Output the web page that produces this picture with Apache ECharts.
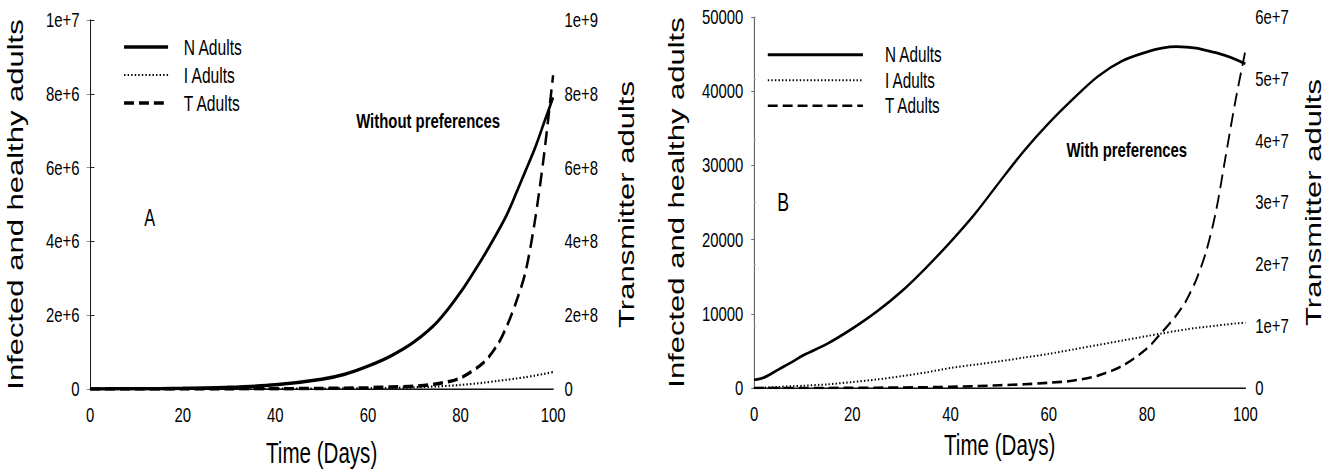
<!DOCTYPE html>
<html>
<head>
<meta charset="utf-8">
<script src="https://cdn.jsdelivr.net/npm/echarts@6/dist/echarts.min.js"></script>
<style>
  html, body { margin: 0; padding: 0; background: #fff; overflow: hidden; }
  /* the figure is typeset in a wide frame, then condensed horizontally */
  #chart { width: 1880px; height: 474px; transform: scaleX(0.71); transform-origin: 0 0; }
</style>
</head>
<body>
<div id="chart"></div>
<script>
// Panel A: without preferences
const daysA = [0, 10, 20, 30, 40, 50, 55, 60, 65, 70, 75, 80, 85, 88, 90, 92, 94, 96, 98, 100];
const nAdultsA = [2000, 6000, 17000, 45000, 112000, 265000, 400000, 620000, 900000, 1280000, 1820000, 2620000, 3600000, 4250000, 4720000, 5300000, 5900000, 6500000, 7200000, 7900000];
const iAdultsA = [0, 1000, 2500, 5000, 8000, 13000, 16000, 20000, 30000, 45000, 70000, 110000, 170000, 220000, 250000, 285000, 320000, 360000, 410000, 460000];
const tAdultsA = [0, 20000, 100000, 300000, 700000, 1500000, 2300000, 3500000, 5500000, 7500000, 14000000, 30000000, 72000000, 120000000, 170000000, 235000000, 315000000, 450000000, 630000000, 850000000];

// Panel B: with preferences
const daysB = [0, 2, 5, 8, 10, 15, 20, 25, 30, 35, 40, 45, 50, 55, 60, 65, 70, 75, 80, 83, 86, 88, 90, 92, 94, 96, 98, 100];
const nAdultsB = [1100, 1400, 2500, 3600, 4400, 6000, 8000, 10300, 13000, 16200, 19700, 23500, 27800, 32000, 35700, 39000, 42000, 44100, 45300, 45800, 46000, 45950, 45800, 45500, 45200, 44800, 44300, 43700];
const iAdultsB = [0, 50, 150, 250, 300, 500, 800, 1150, 1600, 2100, 2700, 3150, 3600, 4100, 4600, 5200, 5800, 6400, 7000, 7350, 7700, 7900, 8100, 8250, 8400, 8550, 8700, 8800];
const tAdultsB = [0, 0, 0, 0, 0, 10000, 20000, 50000, 80000, 120000, 200000, 300000, 450000, 600000, 850000, 1200000, 2000000, 3600000, 6400000, 9000000, 11800000, 14200000, 17500000, 22000000, 28500000, 37500000, 46500000, 54500000];

const seriesNames = ['N Adults', 'I Adults', 'T Adults'];
const xTicks = [0, 20, 40, 60, 80, 100];

const FONT = "'Liberation Sans', Arial, sans-serif";
const pairs = (xs, ys) => xs.map((x, i) => [x, ys[i]]);
const expLabel = v => (v === 0 ? '0' : v.toExponential());

// line styles per panel
const styleA = {
  'N Adults': { type: 'solid', width: 3.5 },
  'I Adults': { type: [2, 3], width: 2.2 },
  'T Adults': { type: [14, 7], width: 3.5 }
};
const styleB = {
  'N Adults': { type: 'solid', width: 2.8 },
  'I Adults': { type: [2, 3], width: 2 },
  'T Adults': { type: [14, 7], width: 2.6 }
};

function lineSeries(name, xi, yi, data, st) {
  return {
    name: name, type: 'line', xAxisIndex: xi, yAxisIndex: yi,
    data: data, symbol: 'none', smooth: 0.3,
    lineStyle: { color: '#000', width: st.width, type: st.type },
    itemStyle: { color: '#000' },
    emphasis: { disabled: true }, z: 3
  };
}

// legend entries show the stroke only
function legendItems(styles) {
  return seriesNames.map(n => ({
    name: n,
    lineStyle: { color: '#000', type: styles[n].type, width: styles[n].width },
    itemStyle: { color: 'rgba(0,0,0,0)', borderColor: 'rgba(0,0,0,0)', borderWidth: 0, opacity: 0 }
  }));
}

const axisText = { color: '#000', fontFamily: FONT, fontSize: 21 };

function xBottom(grid, gap) {
  return {
    gridIndex: grid, type: 'value', position: 'bottom', min: 0, max: 100, interval: 20,
    axisLine: { show: true, lineStyle: { color: '#808080', width: 2 } },
    axisTick: { show: false }, splitLine: { show: false },
    axisLabel: Object.assign({ margin: 16, formatter: v => (xTicks.includes(v) ? String(v) : '') }, axisText),
    name: 'Time (Days)', nameLocation: 'middle', nameGap: gap,
    nameTextStyle: { color: '#000', fontFamily: FONT, fontSize: 29 }
  };
}
function xTop(grid) {
  return {
    gridIndex: grid, type: 'value', position: 'top', min: 0, max: 100, interval: 20,
    axisLine: { show: true, lineStyle: { color: '#000', width: 1 } },
    axisTick: { show: false }, axisLabel: { show: false }, splitLine: { show: false }
  };
}

const option = {
  animation: false,
  backgroundColor: '#fff',
  grid: [
    { left: 127, top: 20, width: 652, height: 369 },
    { left: 1062, top: 17, width: 692, height: 371 }
  ],
  xAxis: [xBottom(0, 49), xTop(0), xBottom(1, 42), xTop(1)],
  yAxis: [
    {
      gridIndex: 0, type: 'value', position: 'left', min: 0, max: 10000000, interval: 2000000,
      axisLine: { show: true, lineStyle: { color: '#7a7a7a', width: 1 } },
      axisTick: { show: true, length: 5, lineStyle: { color: '#7a7a7a' } },
      splitLine: { show: false },
      axisLabel: Object.assign({ margin: 15, formatter: expLabel }, axisText),
      name: 'Infected and healthy adults', nameLocation: 'middle', nameRotate: 90, nameGap: 90,
      nameTextStyle: { color: '#000', fontFamily: FONT, fontSize: 31 }
    },
    {
      gridIndex: 0, type: 'value', position: 'right', min: 0, max: 1000000000, interval: 200000000,
      axisLine: { show: true, lineStyle: { color: '#000', width: 1 } },
      axisTick: { show: true, length: 6, lineStyle: { color: '#000' } },
      splitLine: { show: false },
      axisLabel: Object.assign({ margin: 16, formatter: expLabel }, axisText),
      name: 'Transmitter adults', nameLocation: 'middle', nameRotate: 90, nameGap: 88,
      nameTextStyle: { color: '#000', fontFamily: FONT, fontSize: 31 }
    },
    {
      gridIndex: 1, type: 'value', position: 'left', min: 0, max: 50000, interval: 10000,
      axisLine: { show: true, lineStyle: { color: '#333', width: 1 } },
      axisTick: { show: true, length: 4, lineStyle: { color: '#555' } },
      splitLine: { show: false },
      axisLabel: Object.assign({ margin: 15, formatter: v => String(v) }, axisText),
      name: 'Infected and healthy adults', nameLocation: 'middle', nameRotate: 90, nameGap: 93,
      nameTextStyle: { color: '#000', fontFamily: FONT, fontSize: 31 }
    },
    {
      gridIndex: 1, type: 'value', position: 'right', min: 0, max: 60000000, interval: 10000000,
      axisLine: { show: false },
      axisTick: { show: true, length: 3, lineStyle: { color: '#aaa' } },
      splitLine: { show: false },
      axisLabel: Object.assign({ margin: 14, formatter: expLabel }, axisText),
      name: 'Transmitter adults', nameLocation: 'middle', nameRotate: 90, nameGap: 80,
      nameTextStyle: { color: '#000', fontFamily: FONT, fontSize: 31 }
    }
  ],
  legend: [
    {
      orient: 'vertical', left: 173, top: 33, padding: 0, itemGap: 0,
      itemWidth: 62, itemHeight: 14, selectedMode: false,
      textStyle: { color: '#000', fontFamily: FONT, fontSize: 22, lineHeight: 28, padding: [0, 0, 0, 17] },
      data: legendItems(styleA)
    },
    {
      orient: 'vertical', left: 1080, top: 42, padding: 0, itemGap: 0,
      itemWidth: 134, itemHeight: 14, selectedMode: false,
      textStyle: { color: '#000', fontFamily: FONT, fontSize: 21.5, lineHeight: 25.5, padding: [0, 0, 0, 26] },
      data: legendItems(styleB)
    }
  ],
  graphic: [
    { type: 'text', x: 603, y: 121, silent: true,
      style: { text: 'Without preferences', font: 'bold 21px ' + FONT, fill: '#000', align: 'center', verticalAlign: 'middle' } },
    { type: 'text', x: 1587, y: 150, silent: true,
      style: { text: 'With preferences', font: 'bold 21px ' + FONT, fill: '#000', align: 'center', verticalAlign: 'middle' } },
    { type: 'text', x: 211, y: 218, silent: true,
      style: { text: 'A', font: '23px ' + FONT, fill: '#000', align: 'center', verticalAlign: 'middle' } },
    { type: 'text', x: 1103, y: 202, silent: true,
      style: { text: 'B', font: '25px ' + FONT, fill: '#000', align: 'center', verticalAlign: 'middle' } }
  ],
  series: [
    lineSeries('N Adults', 0, 0, pairs(daysA, nAdultsA), styleA['N Adults']),
    lineSeries('I Adults', 0, 0, pairs(daysA, iAdultsA), styleA['I Adults']),
    lineSeries('T Adults', 0, 1, pairs(daysA, tAdultsA), styleA['T Adults']),
    lineSeries('N Adults', 2, 2, pairs(daysB, nAdultsB), styleB['N Adults']),
    lineSeries('I Adults', 2, 2, pairs(daysB, iAdultsB), styleB['I Adults']),
    lineSeries('T Adults', 2, 3, pairs(daysB, tAdultsB), styleB['T Adults'])
  ]
};

const chart = echarts.init(document.getElementById('chart'), null, { renderer: 'svg' });
chart.setOption(option);
</script>
</body>
</html>
